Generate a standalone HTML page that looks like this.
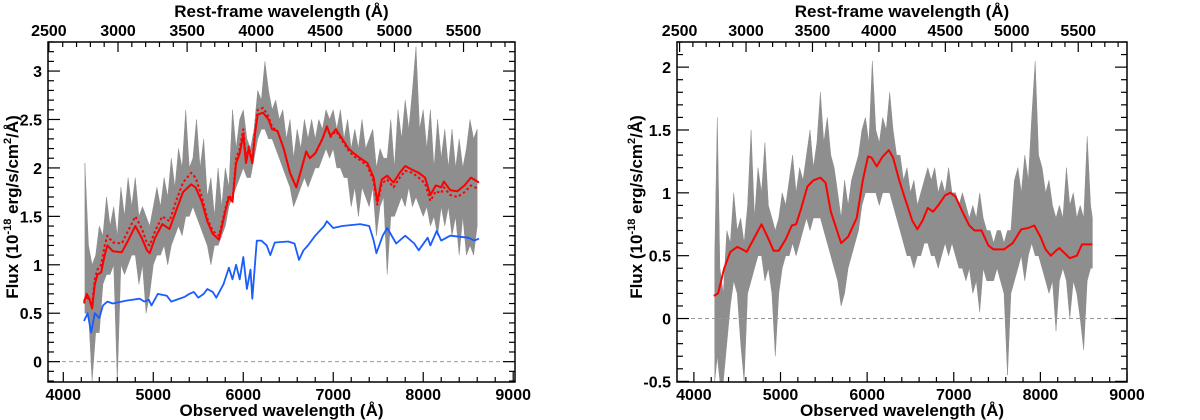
<!DOCTYPE html>
<html><head><meta charset="utf-8">
<style>
html,body{margin:0;padding:0;background:#fff;}
svg{display:block;font-family:"Liberation Sans",Arial,sans-serif;font-weight:bold;}
</style></head>
<body>
<svg id="fig" width="1200" height="420" viewBox="0 0 1200 420" xmlns="http://www.w3.org/2000/svg"></svg>
<script>
// ---------- LEFT PANEL DATA ----------
const leftBandX  = [4240,4280,4320,4360,4400,4440,4480,4520,4560,4600,4640,4680,4720,4760,4800,4840,4880,4920,4960,5000,5040,5080,5120,5160,5200,5240,5280,5320,5360,5400,5440,5480,5520,5560,5600,5640,5680,5720,5760,5800,5840,5880,5920,5960,6000,6040,6080,6120,6160,6200,6240,6280,6320,6360,6400,6440,6480,6520,6560,6600,6640,6680,6720,6760,6800,6840,6880,6920,6960,7000,7040,7080,7120,7160,7200,7240,7280,7320,7360,7400,7440,7480,7520,7560,7600,7640,7680,7720,7760,7800,7840,7880,7920,7960,8000,8040,8080,8120,8160,8200,8240,8280,8320,8360,8400,8440,8480,8520,8560,8600];
const leftBandHi = [2.05,1.2,1.0,1.1,1.4,1.3,1.7,1.4,1.6,1.3,1.8,1.5,1.9,1.6,1.9,1.5,1.6,1.5,1.4,1.6,1.8,1.6,1.9,1.7,2.1,1.8,2.2,2.0,2.6,2.0,2.1,2.5,2.0,2.3,1.7,1.9,1.5,2.0,1.6,2.0,1.8,2.6,2.2,2.5,2.6,2.3,2.2,2.4,2.8,2.7,3.1,2.8,2.6,2.7,2.5,2.6,2.3,2.5,2.1,2.4,2.2,2.5,2.3,2.5,2.3,2.5,2.4,2.6,2.5,2.6,2.4,2.6,2.3,2.5,2.2,2.4,2.2,2.5,2.2,2.3,2.4,2.0,2.2,2.1,2.1,2.5,2.0,2.6,2.3,2.7,2.4,2.8,3.25,2.4,2.6,2.2,2.6,2.0,2.5,2.1,2.4,2.0,2.4,2.0,2.3,2.0,2.2,2.5,2.3,2.4];
const leftBandLo = [0.5,0.5,-0.2,0.3,0.3,0.8,0.9,0.9,1.0,-0.2,1.0,0.9,1.0,1.1,1.1,0.8,1.0,0.5,0.7,1.0,1.1,1.1,1.2,1.0,1.2,1.3,1.4,1.3,1.5,1.5,1.6,1.5,1.4,1.3,1.2,1.0,1.2,1.2,1.3,1.4,1.6,1.7,1.8,1.9,2.0,1.9,1.9,2.1,2.3,2.4,2.4,2.3,2.3,2.2,2.1,2.0,1.9,1.8,1.6,1.7,1.8,1.9,1.8,1.9,2.0,2.0,2.1,2.2,2.1,2.2,2.0,2.0,1.9,1.9,1.6,1.8,1.5,1.8,1.7,1.6,1.8,1.3,1.6,1.7,0.9,1.5,1.5,1.6,1.7,1.6,1.8,1.6,1.7,1.6,1.5,1.6,1.4,1.5,1.3,1.6,1.4,1.6,1.3,1.5,1.1,1.5,1.1,1.2,1.1,1.4];
const leftFitX = [4230,4260,4290,4320,4350,4380,4420,4460,4490,4550,4650,4720,4800,4870,4930,4960,5020,5100,5180,5250,5330,5420,5470,5540,5600,5660,5730,5800,5840,5880,5920,5960,6000,6030,6060,6100,6130,6160,6220,6280,6320,6380,6450,6520,6590,6650,6700,6740,6800,6880,6930,6970,7030,7100,7170,7230,7300,7380,7450,7490,7540,7600,7670,7740,7800,7880,7950,8020,8080,8140,8200,8230,8300,8380,8460,8530,8620];
const leftFitY = [0.62,0.70,0.65,0.55,0.80,0.90,0.92,1.10,1.20,1.14,1.13,1.25,1.40,1.28,1.15,1.12,1.28,1.42,1.37,1.55,1.75,1.83,1.80,1.65,1.45,1.32,1.26,1.55,1.70,1.65,2.05,2.15,2.35,2.05,2.20,2.05,2.35,2.55,2.57,2.50,2.40,2.38,2.20,1.95,1.80,2.00,2.17,2.10,2.15,2.30,2.43,2.33,2.40,2.30,2.20,2.15,2.10,2.05,1.90,1.65,1.88,1.92,1.85,1.95,2.02,1.98,1.95,1.90,1.72,1.82,1.80,1.86,1.77,1.76,1.82,1.90,1.85];
const leftAltY = [0.60,0.68,0.63,0.58,0.85,0.95,1.00,1.20,1.30,1.23,1.22,1.35,1.50,1.38,1.22,1.20,1.35,1.50,1.45,1.65,1.85,1.95,1.90,1.70,1.48,1.35,1.30,1.58,1.72,1.67,2.10,2.20,2.40,2.08,2.22,2.08,2.38,2.60,2.62,2.53,2.42,2.38,2.20,1.95,1.80,2.00,2.17,2.10,2.15,2.30,2.42,2.32,2.38,2.28,2.18,2.12,2.08,2.02,1.86,1.62,1.84,1.88,1.80,1.90,1.97,1.95,1.90,1.84,1.66,1.76,1.74,1.80,1.72,1.70,1.75,1.82,1.78];
const leftHostX = [4230,4270,4310,4350,4400,4440,4490,4550,4700,4850,4900,4950,4980,5050,5150,5200,5350,5400,5450,5500,5560,5600,5660,5700,5780,5840,5880,5920,5960,6000,6040,6080,6100,6150,6200,6260,6300,6350,6500,6570,6620,6670,6720,6800,6900,6930,7000,7100,7300,7400,7450,7480,7550,7600,7700,7800,7900,7950,8050,8080,8150,8200,8300,8500,8570,8620];
const leftHostY = [0.42,0.50,0.30,0.50,0.45,0.58,0.62,0.60,0.63,0.65,0.62,0.64,0.58,0.70,0.68,0.62,0.67,0.70,0.72,0.66,0.70,0.75,0.72,0.66,0.80,0.97,0.85,1.00,0.85,1.08,0.75,0.95,0.65,1.25,1.25,1.20,1.10,1.23,1.24,1.22,1.05,1.15,1.20,1.30,1.40,1.45,1.38,1.40,1.42,1.40,1.25,1.12,1.30,1.38,1.22,1.30,1.22,1.15,1.28,1.20,1.35,1.25,1.30,1.28,1.25,1.27];
const leftYTicks = [0,0.5,1,1.5,2,2.5,3];
const leftYLabels = ["0","0.5","1","1.5","2","2.5","3"];
// ---------- RIGHT PANEL DATA ----------
const rightBandX  = [4240,4270,4300,4340,4380,4420,4460,4500,4540,4580,4620,4660,4700,4740,4780,4820,4860,4900,4940,4980,5020,5060,5100,5140,5180,5220,5260,5300,5340,5380,5420,5460,5500,5540,5580,5620,5660,5700,5740,5780,5820,5860,5900,5940,5980,6020,6060,6100,6140,6180,6220,6260,6300,6340,6380,6420,6460,6500,6540,6580,6620,6660,6700,6740,6780,6820,6860,6900,6940,6980,7020,7060,7100,7140,7180,7220,7260,7300,7340,7380,7420,7460,7500,7540,7580,7620,7660,7700,7740,7780,7820,7860,7900,7940,7980,8020,8060,8100,8140,8180,8220,8260,8300,8340,8380,8420,8460,8500,8540,8580,8600];
const rightBandHi = [0.5,1.6,0.4,0.2,0.7,0.6,1.0,0.7,0.8,0.6,0.9,1.5,0.8,1.2,1.0,1.4,0.9,0.8,0.7,0.8,1.0,0.9,1.1,1.3,1.0,1.2,1.1,1.3,1.5,1.2,1.4,1.8,1.4,1.6,1.3,1.2,1.0,0.8,1.1,0.9,1.1,1.2,1.3,1.5,1.6,1.4,2.05,1.5,1.4,1.6,1.5,1.8,1.5,1.3,1.3,1.1,1.2,1.0,1.1,0.9,1.0,1.1,1.2,1.1,1.2,1.0,1.1,1.0,1.2,1.0,1.0,0.9,1.0,0.9,0.8,0.9,0.8,1.0,0.8,0.7,0.7,0.6,0.7,0.7,0.6,0.7,0.7,1.1,1.2,1.0,1.3,1.1,1.6,2.05,1.3,1.2,1.0,1.1,0.9,0.8,0.9,0.8,1.2,0.9,1.0,0.8,0.9,0.8,1.45,0.9,0.8];
const rightBandLo = [-0.5,-0.3,-0.5,-0.5,-0.2,0.1,0.3,0.2,-0.2,-0.5,0.2,0.3,0.4,0.5,0.5,0.3,0.4,0.2,-0.3,0.2,0.4,0.5,0.5,0.6,0.5,0.6,0.7,0.8,0.7,0.8,0.8,0.8,0.7,0.6,0.5,0.4,0.3,0.1,0.2,0.4,0.5,0.6,0.7,0.9,1.0,1.0,1.0,1.0,0.9,1.0,1.0,1.0,0.9,0.8,0.7,0.6,0.5,0.5,0.4,0.5,0.5,0.6,0.6,0.5,0.5,0.4,0.5,0.6,0.5,0.6,0.5,0.4,0.4,0.3,0.4,0.2,0.3,0.05,0.4,0.3,0.3,0.3,0.4,0.3,0.2,-0.45,0.2,0.3,0.4,0.5,0.3,0.5,0.6,0.5,0.5,0.4,0.3,0.2,0.3,-0.1,0.3,0.4,0.3,0.0,0.3,0.2,0.0,-0.25,0.3,0.4,0.4];
const rightFitX = [4230,4280,4350,4420,4500,4560,4610,4680,4780,4850,4920,4980,5060,5130,5180,5240,5310,5380,5460,5520,5580,5700,5780,5880,5950,6010,6050,6110,6170,6250,6300,6370,6440,6520,6580,6640,6700,6760,6820,6900,6960,7020,7100,7180,7240,7320,7400,7460,7580,7680,7780,7860,7930,8000,8060,8120,8180,8220,8280,8340,8420,8480,8540,8600];
const rightFitY = [0.18,0.20,0.40,0.53,0.57,0.55,0.53,0.62,0.75,0.65,0.54,0.54,0.63,0.74,0.75,0.88,1.05,1.10,1.12,1.08,0.85,0.60,0.65,0.80,1.10,1.29,1.28,1.21,1.28,1.34,1.28,1.10,0.95,0.78,0.71,0.78,0.88,0.85,0.90,0.98,1.00,0.97,0.85,0.74,0.70,0.70,0.58,0.55,0.55,0.60,0.71,0.72,0.74,0.65,0.55,0.50,0.54,0.56,0.52,0.48,0.50,0.59,0.59,0.59];
const rightYTicks = [-0.5,0,0.5,1,1.5,2];
const rightYLabels = ["-0.5","0","0.5","1","1.5","2"];
// ---------- SHARED AXIS LABELS ----------
const obsTicks = [4000,5000,6000,7000,8000,9000];
const restTicks = [2500,3000,3500,4000,4500,5000,5500];

const NS = "http://www.w3.org/2000/svg";
const svg = document.getElementById('fig');
function mk(tag, attrs, parent){
  const e = document.createElementNS(NS, tag);
  for (const k in attrs) e.setAttribute(k, attrs[k]);
  (parent||svg).appendChild(e);
  return e;
}

function panel(cfg){
  const g = mk('g', {});
  
  
  const X = v => cfg.x0 + (v - cfg.xmin) / (cfg.xmax - cfg.xmin) * (cfg.x1 - cfg.x0);
  const Y = v => cfg.y1 - (v - cfg.ymin) / (cfg.ymax - cfg.ymin) * (cfg.y1 - cfg.y0);
  const XR = r => X(r * cfg.zf);
  const clip = 'clip-' + cfg.name;
  const cp = mk('clipPath', {id: clip}, g);
  mk('rect', {x: cfg.x0, y: cfg.y0, width: cfg.x1 - cfg.x0, height: cfg.y1 - cfg.y0}, cp);
  const plot = mk('g', {'clip-path': 'url(#' + clip + ')'}, g);

  let pts = [];
  cfg.bx.forEach((w, i) => pts.push(X(w).toFixed(1) + ',' + Y(cfg.bhi[i]).toFixed(1)));
  for (let i = cfg.bx.length - 1; i >= 0; i--) pts.push(X(cfg.bx[i]).toFixed(1) + ',' + Y(cfg.blo[i]).toFixed(1));
  const band = mk('polygon', {points: pts.join(' '), fill: '#8e8e8e', stroke: '#8e8e8e', 'stroke-width': 0.5}, plot);
  
  

  const z = mk('line', {x1: cfg.x0, x2: cfg.x1, y1: Y(0), y2: Y(0), stroke: '#999', 'stroke-width': 1, 'stroke-dasharray': '4,3'}, plot);
  
  

  function line(xs, ys, color, dash, w, nm){
    const d = xs.map((v, i) => (i ? 'L' : 'M') + X(v).toFixed(1) + ',' + Y(ys[i]).toFixed(1)).join('');
    const p = mk('path', {d: d, fill: 'none', stroke: color, 'stroke-width': w, 'stroke-linejoin': 'round'}, plot);
    if (dash) p.setAttribute('stroke-dasharray', dash);
    
    
  }
  if (cfg.hx) line(cfg.hx, cfg.hy, '#1a5cff', null, 1.8, 'host-galaxy-line');
  if (cfg.ay) line(cfg.fx, cfg.ay, '#ff0000', '2.5,2.5', 2, 'alt-fit-dotted-line');
  line(cfg.fx, cfg.fy, '#ff0000', null, 2, 'best-fit-line');

  const fr = mk('rect', {x: cfg.x0, y: cfg.y0, width: cfg.x1 - cfg.x0, height: cfg.y1 - cfg.y0, fill: 'none', stroke: '#000', 'stroke-width': 1.5}, g);
  
  

  for (let v = 3800; v <= cfg.xmax; v += 200) {
    if (v < cfg.xmin) continue;
    const maj = v % 1000 === 0, L = maj ? 10 : 5;
    mk('line', {x1: X(v), x2: X(v), y1: cfg.y1, y2: cfg.y1 - L, stroke: '#000', 'stroke-width': 1.2}, g);
  }
  obsTicks.forEach(v => {
    const t = mk('text', {x: X(v), y: cfg.y1 + 18, 'text-anchor': 'middle', 'font-size': 16}, g);
    t.textContent = v;
    
    
  });
  for (let r = 2500; r * cfg.zf <= cfg.xmax; r += 100) {
    if (r * cfg.zf < cfg.xmin) continue;
    const maj = r % 500 === 0, L = maj ? 10 : 5;
    mk('line', {x1: XR(r), x2: XR(r), y1: cfg.y0, y2: cfg.y0 + L, stroke: '#000', 'stroke-width': 1.2}, g);
  }
  restTicks.forEach(r => {
    const t = mk('text', {x: XR(r), y: cfg.y0 - 6, 'text-anchor': 'middle', 'font-size': 16}, g);
    t.textContent = r;
    
    
  });
  const ys = Math.ceil(cfg.ymin * 10) / 10;
  for (let v = ys; v <= cfg.ymax + 1e-9; v += 0.1) {
    const vv = Math.round(v * 10) / 10;
    const maj = Math.abs(vv * 2 - Math.round(vv * 2)) < 1e-6, L = maj ? 12 : 6;
    mk('line', {x1: cfg.x0, x2: cfg.x0 + L, y1: Y(vv), y2: Y(vv), stroke: '#000', 'stroke-width': 1.2}, g);
    mk('line', {x1: cfg.x1, x2: cfg.x1 - L, y1: Y(vv), y2: Y(vv), stroke: '#000', 'stroke-width': 1.2}, g);
  }
  cfg.yt.forEach((v, i) => {
    const t = mk('text', {x: cfg.x0 - 6, y: Y(v) + 6, 'text-anchor': 'end', 'font-size': 16}, g);
    t.textContent = cfg.yl[i];
    
    
  });
  const cx = (cfg.x0 + cfg.x1) / 2;
  const bt = mk('text', {x: cx, y: 416, 'text-anchor': 'middle', 'font-size': 17}, g);
  bt.textContent = 'Observed wavelength (Å)';
  
  
  const tt = mk('text', {x: cx, y: 17, 'text-anchor': 'middle', 'font-size': 17}, g);
  tt.textContent = 'Rest-frame wavelength (Å)';
  
  
  const yt = mk('text', {x: 0, y: 0, 'text-anchor': 'middle', 'font-size': 17, transform: 'translate(' + cfg.ytx + ',' + ((cfg.y0 + cfg.y1) / 2 - 5) + ') rotate(-90)'}, g);
  yt.innerHTML = 'Flux (10<tspan dy="-7" font-size="11">-18</tspan><tspan dy="7"> erg/s/cm</tspan><tspan dy="-7" font-size="11">2</tspan><tspan dy="7">/Å)</tspan>';
  
  
}

panel({name: 'left-panel', x0: 48, x1: 515, y0: 42, y1: 382, xmin: 3830, xmax: 9020, ymin: -0.21, ymax: 3.30, zf: 1.536, ytx: 18,
  bx: leftBandX, bhi: leftBandHi, blo: leftBandLo, fx: leftFitX, fy: leftFitY, ay: leftAltY, hx: leftHostX, hy: leftHostY, yt: leftYTicks, yl: leftYLabels});
panel({name: 'right-panel', x0: 677, x1: 1127, y0: 42, y1: 382, xmin: 3805, xmax: 9000, ymin: -0.505, ymax: 2.20, zf: 1.534, ytx: 642,
  bx: rightBandX, bhi: rightBandHi, blo: rightBandLo, fx: rightFitX, fy: rightFitY, yt: rightYTicks, yl: rightYLabels});
</script>
</body></html>
